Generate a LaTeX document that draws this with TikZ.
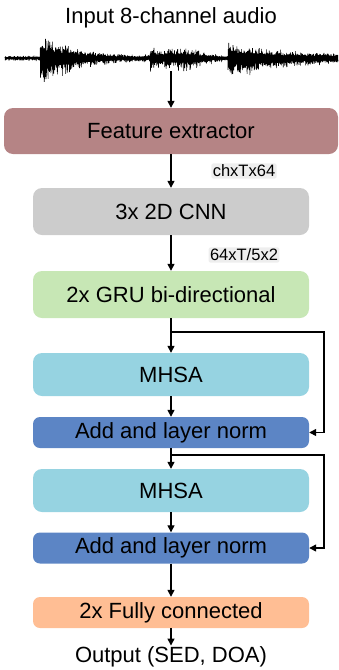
\documentclass[tikz,border=0pt]{standalone}
\usepackage{fontspec}
\setmainfont{Liberation Sans}
\usetikzlibrary{arrows.meta}

\definecolor{featcol}{RGB}{181,132,133}
\definecolor{cnncol}{RGB}{204,204,204}
\definecolor{grucol}{RGB}{199,231,181}
\definecolor{mhsacol}{RGB}{150,211,225}
\definecolor{normcol}{RGB}{92,133,197}
\definecolor{fccol}{RGB}{255,190,148}
\definecolor{tagbg}{RGB}{238,238,238}

\begin{document}
\begin{tikzpicture}[x=1pt, y=-1pt, >={Triangle[length=7pt,width=7pt]},
  block/.style={rounded corners=9pt, minimum width=276pt, minimum height=43pt, inner sep=0pt, font=\fontsize{22}{26}\selectfont},
  dimtag/.style={fill=tagbg, rounded corners=2pt, inner sep=1.5pt, font=\fontsize{16.5}{19}\selectfont},
  flow/.style={line width=1.3pt, ->},
  declare function={
    burst(\t,\s,\a,\d)=(\t>\s)*\a*exp(-max(\t-\s,0)/\d);
    hump(\t,\c,\a,\w)=\a*exp(-min(((\t-\c)/\w)^2,30));
    env(\t)=3+burst(\t,40,30,30)+burst(\t,150,12,10)+hump(\t,185,9,24)+burst(\t,228,18,60);
    sig(\i)=mod(\i,2)*2-1;
    xpos(\i)=5+(\i/1399)*333;}]
\useasboundingbox (0,0) rectangle (339,670);
\pgfmathsetseed{42}

% input signal, one vertical swing per sample
\node[font=\fontsize{22}{26}\selectfont] (title) at (171,18) {Input 8-channel audio};
\draw[line width=0.6pt, line join=bevel] plot[domain=0:1399, samples=1400, variable=\i]
  ({xpos(\i)}, {58+sig(\i)*(1+0.12*sig(\i))*env(xpos(\i))*(0.3+0.7*rnd*rnd)});
\coordinate (wave) at (171,71);

% network blocks
\node[block, fill=featcol, minimum width=334pt, minimum height=46pt] (feat) at (171,131) {Feature extractor};
\node[block, fill=cnncol, minimum height=47pt] (cnn) at (171,211.5) {3x 2D CNN};
\node[block, fill=grucol, minimum height=47pt] (gru) at (171,294.5) {2x GRU bi-directional};
\node[block, fill=mhsacol] (mhsa1) at (171,374.5) {MHSA};
\node[block, fill=normcol, minimum height=31pt, rounded corners=7pt] (norm1) at (171,432.5) {Add and layer norm};
\node[block, fill=mhsacol] (mhsa2) at (171,490.5) {MHSA};
\node[block, fill=normcol, minimum height=31pt, rounded corners=7pt] (norm2) at (171,548) {Add and layer norm};
\node[block, fill=fccol, minimum height=31pt, rounded corners=7pt] (fc) at (171,612.5) {2x Fully connected};
\node[font=\fontsize{22}{26}\selectfont, inner sep=1pt] (out) at (171,657) {Output (SED, DOA)};

% tensor shapes
\node[dimtag] (dimcnn) at (244,171) {chxTx64};
\node[dimtag] (dimgru) at (244,255) {64xT/5x2};

% main path
\draw[flow] (wave) -- (feat);
\draw[flow] (feat) -- (cnn);
\draw[flow] (cnn) -- (gru);
\draw[flow] (gru) -- (mhsa1);
\draw[flow] (mhsa1) -- (norm1);
\draw[flow] (norm1) -- (mhsa2);
\draw[flow] (mhsa2) -- (norm2);
\draw[flow] (norm2) -- (fc);
\draw[flow] (fc) -- (out);

% residual connections
\coordinate (split1) at (171,332);
\coordinate (skip1) at (324,332);
\coordinate (split2) at (171,455);
\coordinate (skip2) at (324,455);
\draw[flow] (split1) -- (skip1) |- (norm1);
\draw[flow] (split2) -- (skip2) |- (norm2);
\end{tikzpicture}
\end{document}
